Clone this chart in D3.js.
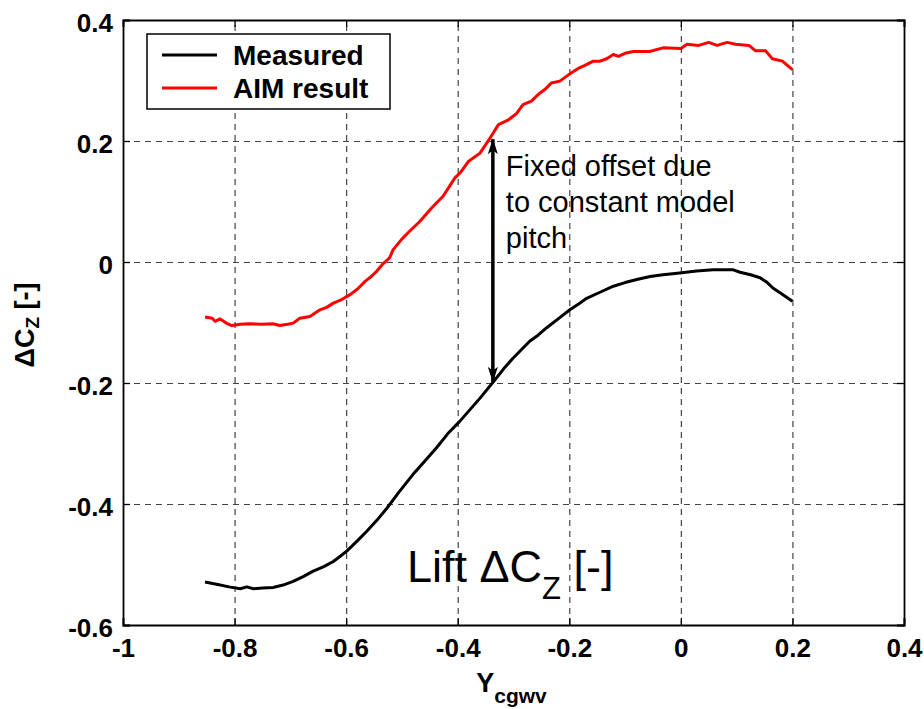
<!DOCTYPE html>
<html>
<head>
<meta charset="utf-8">
<script src="https://cdn.jsdelivr.net/npm/d3@7"></script>
<style>
    body { margin: 0; background: #fff; }
    svg { display: block; font-family: Arial, "Liberation Sans", sans-serif; }
    .grid line { stroke: #444; stroke-width: 1.2; stroke-dasharray: 6,5; }
    .grid path { display: none; }
    .axis path { stroke: #000; stroke-width: 1.8; }
    .axis line { stroke: #000; stroke-width: 1.3; }
    .axis text { font-size: 26px; font-weight: bold; fill: #000; font-family: Arial, "Liberation Sans", sans-serif; }
</style>
</head>
<body>
<div id="chart"></div>
<script>
/** * Data * * **/
const xTicks = [-1, -0.8, -0.6, -0.4, -0.2, 0, 0.2, 0.4];
const yTicks = [-0.6, -0.4, -0.2, 0, 0.2, 0.4];

// Measured (black)
const measuredX = [-0.853, -0.830, -0.810, -0.790, -0.778, -0.766, -0.750, -0.731, -0.713, -0.695,
    -0.677, -0.659, -0.641, -0.623, -0.610, -0.599, -0.580, -0.563, -0.545, -0.527,
    -0.505, -0.480, -0.460, -0.438, -0.418, -0.396, -0.378, -0.360, -0.336, -0.318,
    -0.301, -0.286, -0.271, -0.256, -0.241, -0.220, -0.199, -0.184, -0.169, -0.145,
    -0.121, -0.100, -0.079, -0.055, -0.032, -0.002, 0.028, 0.058, 0.094, 0.106,
    0.125, 0.142, 0.155, 0.165, 0.183, 0.200];
const measuredY = [-0.529, -0.533, -0.537, -0.540, -0.537, -0.540, -0.539, -0.538, -0.534, -0.528,
    -0.520, -0.511, -0.504, -0.495, -0.486, -0.478, -0.461, -0.445, -0.427, -0.407,
    -0.380, -0.351, -0.330, -0.307, -0.284, -0.263, -0.244, -0.225, -0.198, -0.177,
    -0.159, -0.145, -0.131, -0.121, -0.109, -0.094, -0.079, -0.070, -0.060, -0.050,
    -0.040, -0.034, -0.029, -0.024, -0.021, -0.018, -0.015, -0.013, -0.013, -0.017,
    -0.021, -0.026, -0.034, -0.043, -0.054, -0.065];

// AIM result (red)
const aimX = [-0.853, -0.840, -0.835, -0.826, -0.815, -0.805, -0.790, -0.772, -0.750, -0.731,
    -0.719, -0.705, -0.695, -0.683, -0.665, -0.647, -0.635, -0.623, -0.608, -0.593,
    -0.580, -0.566, -0.555, -0.545, -0.535, -0.522, -0.516, -0.501, -0.485, -0.468,
    -0.446, -0.426, -0.405, -0.395, -0.381, -0.360, -0.342, -0.327, -0.309, -0.295,
    -0.283, -0.268, -0.253, -0.244, -0.232, -0.217, -0.199, -0.184, -0.172, -0.157,
    -0.145, -0.133, -0.121, -0.112, -0.100, -0.085, -0.056, -0.032, 0.000, 0.011,
    0.032, 0.050, 0.065, 0.083, 0.098, 0.122, 0.134, 0.152, 0.164, 0.182, 0.200];
const aimY = [-0.091, -0.093, -0.098, -0.094, -0.101, -0.105, -0.103, -0.102, -0.103, -0.102,
    -0.105, -0.103, -0.101, -0.093, -0.090, -0.079, -0.075, -0.068, -0.062, -0.054,
    -0.045, -0.032, -0.024, -0.015, -0.004, 0.007, 0.020, 0.037, 0.052, 0.067,
    0.090, 0.109, 0.139, 0.148, 0.166, 0.180, 0.205, 0.227, 0.235, 0.245,
    0.260, 0.266, 0.279, 0.285, 0.296, 0.299, 0.311, 0.320, 0.325, 0.332,
    0.332, 0.336, 0.343, 0.340, 0.345, 0.348, 0.348, 0.354, 0.353, 0.360,
    0.358, 0.363, 0.358, 0.363, 0.360, 0.358, 0.349, 0.349, 0.336, 0.332, 0.318];

// offset arrow between the two curves
const arrowX = -0.337;
const arrowTop = 0.203;
const arrowBottom = -0.198;

const noteLines = ["Fixed offset due", "to constant model", "pitch"];

/** * Layout * * **/
const width = 924;
const height = 709;
const margin = { top: 20, left: 123, right: 20, bottom: 84 };
const plotW = width - margin.left - margin.right;
const plotH = height - margin.top - margin.bottom;

const x = d3.scaleLinear().domain([-1, 0.4]).range([0, plotW]);
const y = d3.scaleLinear().domain([-0.6, 0.4]).range([plotH, 0]);
const fmt = d => String(+d.toFixed(1));

const svg = d3.select("#chart")
    .append("svg")
    .attr("width", width)
    .attr("height", height);

svg.append("rect").attr("width", width).attr("height", height).attr("fill", "#fff");

svg.append("defs").append("marker")
    .attr("id", "arrowhead")
    .attr("viewBox", "0 -5 16 10")
    .attr("refX", 15)
    .attr("refY", 0)
    .attr("orient", "auto-start-reverse")
    .attr("markerUnits", "userSpaceOnUse")
    .attr("markerWidth", 16)
    .attr("markerHeight", 10)
    .append("path")
    .attr("d", "M0,-5 L16,0 L0,5 L4,0 Z")
    .attr("fill", "#000");

const g = svg.append("g").attr("transform", `translate(${margin.left},${margin.top})`);

// grid
g.append("g")
    .attr("class", "grid")
    .attr("transform", `translate(0,${plotH})`)
    .call(d3.axisBottom(x).tickValues(xTicks.slice(1, -1)).tickSize(-plotH).tickFormat(""));
g.append("g")
    .attr("class", "grid")
    .call(d3.axisLeft(y).tickValues(yTicks.slice(1, -1)).tickSize(-plotW).tickFormat(""));

// axes, ticks pointing inward like the original
g.append("g")
    .attr("class", "axis")
    .attr("transform", `translate(0,${plotH})`)
    .call(d3.axisBottom(x).tickValues(xTicks).tickSize(-7).tickPadding(14).tickFormat(fmt));
g.append("g")
    .attr("class", "axis")
    .call(d3.axisLeft(y).tickValues(yTicks).tickSize(-7).tickPadding(10).tickFormat(fmt))
    .selectAll("text").attr("dy", "0.45em");
g.append("g")
    .attr("class", "axis")
    .call(d3.axisTop(x).tickValues(xTicks).tickSize(-7).tickFormat(""));
g.append("g")
    .attr("class", "axis")
    .attr("transform", `translate(${plotW},0)`)
    .call(d3.axisRight(y).tickValues(yTicks).tickSize(-7).tickFormat(""));

// curves
const line = d3.line().x(d => x(d[0])).y(d => y(d[1]));

g.append("path")
    .datum(aimX.map((v, i) => [v, aimY[i]]))
    .attr("d", line)
    .attr("fill", "none")
    .attr("stroke", "#ff0000")
    .attr("stroke-width", 3)
    .attr("stroke-linejoin", "round");

g.append("path")
    .datum(measuredX.map((v, i) => [v, measuredY[i]]))
    .attr("d", line)
    .attr("fill", "none")
    .attr("stroke", "#000")
    .attr("stroke-width", 3)
    .attr("stroke-linejoin", "round");

// offset arrow + note
g.append("line")
    .attr("x1", x(arrowX)).attr("x2", x(arrowX))
    .attr("y1", y(arrowTop)).attr("y2", y(arrowBottom))
    .attr("stroke", "#000")
    .attr("stroke-width", 3.5)
    .attr("marker-start", "url(#arrowhead)")
    .attr("marker-end", "url(#arrowhead)");

g.append("g")
    .selectAll("text")
    .data(noteLines)
    .join("text")
    .attr("x", x(arrowX) + 13)
    .attr("y", (d, i) => y(0.2) + 35 + i * 36)
    .attr("font-size", 29)
    .attr("fill", "#000")
    .text(d => d);

const lift = g.append("text")
    .attr("x", 284)
    .attr("y", 562)
    .attr("font-size", 45)
    .attr("fill", "#000");
lift.append("tspan").text("Lift \u0394C");
lift.append("tspan").attr("font-size", 31).attr("dy", 17).text("Z");
lift.append("tspan").attr("dy", -17).text(" [-]");

// legend
const legend = g.append("g").attr("transform", "translate(24,14)");
legend.append("rect")
    .attr("width", 243)
    .attr("height", 75)
    .attr("fill", "#fff")
    .attr("stroke", "#000")
    .attr("stroke-width", 1.5);

const legendItems = [
    { name: "Measured", color: "#000" },
    { name: "AIM result", color: "#ff0000" }
];
legendItems.forEach((item, i) => {
    const ly = 21 + i * 33;
    legend.append("line")
        .attr("x1", 15).attr("x2", 70)
        .attr("y1", ly).attr("y2", ly)
        .attr("stroke", item.color)
        .attr("stroke-width", 3);
    legend.append("text")
        .attr("x", 86)
        .attr("y", ly + 9.5)
        .attr("font-size", 28)
        .attr("font-weight", "bold")
        .attr("fill", "#000")
        .text(item.name);
});

// axis titles
const xTitle = svg.append("text")
    .attr("x", margin.left + plotW / 2 - 2)
    .attr("y", 692)
    .attr("text-anchor", "middle")
    .attr("font-size", 27)
    .attr("font-weight", "bold")
    .attr("fill", "#000");
xTitle.append("tspan").text("Y");
xTitle.append("tspan").attr("font-size", 21).attr("dy", 11).text("cgwv");

const yTitle = svg.append("text")
    .attr("transform", "translate(34,325) rotate(-90)")
    .attr("text-anchor", "middle")
    .attr("font-size", 27)
    .attr("font-weight", "bold")
    .attr("fill", "#000");
yTitle.append("tspan").text("\u0394C");
yTitle.append("tspan").attr("font-size", 19).attr("dy", 5).text("Z");
yTitle.append("tspan").attr("dy", -5).text(" [-]");
</script>
</body>
</html>
